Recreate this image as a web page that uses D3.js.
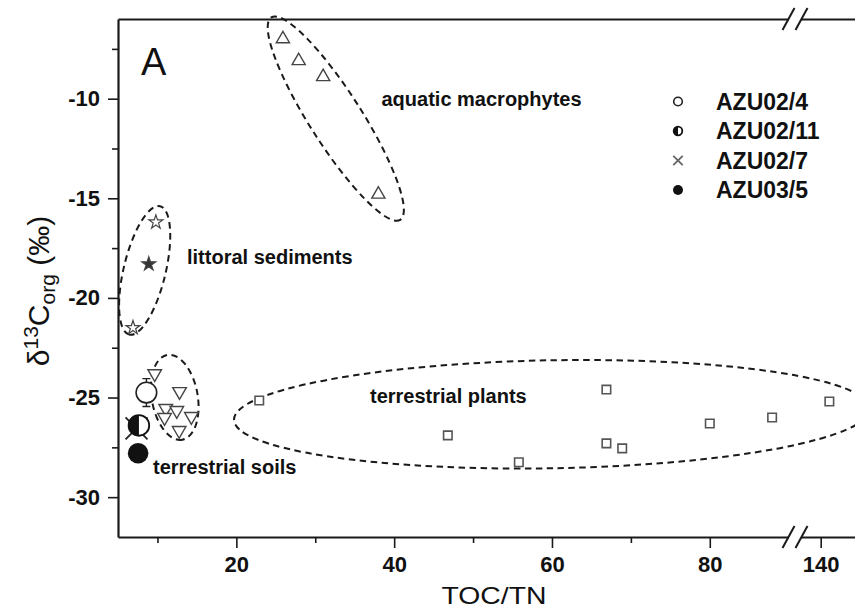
<!DOCTYPE html>
<html>
<head>
<meta charset="utf-8">
<script src="https://cdn.jsdelivr.net/npm/d3@7"></script>
<style>
  body { margin: 0; background: #fff; }
  svg { display: block; }
  text { font-family: "Liberation Sans", Arial, Helvetica, sans-serif; fill: #111; }
</style>
</head>
<body>
<svg id="chart" width="855" height="612"></svg>
<script>
// End-member groups: [TOC/TN, δ13C org (‰)]
const aquaticMacrophytes = [[25.9, -7.0], [27.9, -8.1], [31.0, -8.9], [38.0, -14.8]];
const littoralSediments  = [[9.8, -16.2], [8.9, -18.3], [6.9, -21.5]];
const littoralFilled     = [false, true, false];
const terrestrialSoils   = [[9.65, -23.8], [12.8, -24.7], [11.05, -25.55], [12.45, -25.65],
                            [10.9, -26.0], [14.3, -25.95], [12.75, -26.65]];
const terrestrialPlants  = [[22.9, -25.15], [46.8, -26.9], [55.8, -28.25], [66.9, -24.6],
                            [66.9, -27.3], [68.9, -27.55], [80.0, -26.3], [87.9, -26.0], [141.1, -25.2]];

// Core samples
const sampleNames = ["AZU02/4", "AZU02/11", "AZU02/7", "AZU03/5"];
const sampleToc   = [8.6, 7.65, 7.35, 7.55];
const sampleD13c  = [-24.75, -26.4, -26.55, -27.8];
const sampleErr   = [0.7, 0, 0, 0];

// Tick values
const xMajorLow  = [20, 40, 60, 80];
const xMinorLow  = [10, 30, 50, 70];
const xMajorHigh = [140];
const yMajor     = [-10, -15, -20, -25, -30];
const yMinor     = [-7.5, -12.5, -17.5, -22.5, -27.5];

// Dashed outlines around each group: centre in data units, radii in px, rotation in degrees
const outlineNames  = ["aquatic macrophytes", "littoral sediments", "terrestrial soils", "terrestrial plants"];
const outlineCentre = [[32.6, -11.0], [8.38, -18.62], [12.19, -24.99], [60.0, -25.84]];
const outlineShape  = [
  { rx: 120, ry: 26, angle: 57.5 },
  { rx: 66,  ry: 21, angle: 103.5 },
  { rx: 43,  ry: 23, angle: 80 },
  { rx: 318, ry: 54, angle: -1 }
];
const outlineLabelPos = [[381.5, 106], [187, 264], [153, 474], [370, 403]];

(function draw() {
  const plotLeft = 118, plotTop = 19, plotBottom = 537, plotRight = 855;
  const breakX = 795;

  const svg = d3.select("#chart");

  const xLow  = d3.scaleLinear().domain([5, 90.8]).range([plotLeft, breakX]);
  const xHigh = d3.scaleLinear().domain([137, 144.6]).range([breakX + 2, plotRight + 2]);
  const xPos  = v => v > 100 ? xHigh(v) : xLow(v);
  const y     = d3.scaleLinear().domain([-32, -6]).range([plotBottom, plotTop]);

  // ---- group outlines ----
  const outlines = svg.append("g")
    .attr("fill", "none").attr("stroke", "#1a1a1a")
    .attr("stroke-width", 2).attr("stroke-dasharray", "6.5,4.5");
  outlineCentre.forEach((c, i) => {
    const s = outlineShape[i];
    outlines.append("ellipse")
      .attr("transform", `translate(${xPos(c[0])},${y(c[1])}) rotate(${s.angle})`)
      .attr("rx", s.rx).attr("ry", s.ry);
  });

  // ---- group labels ----
  svg.append("g").selectAll("text").data(outlineNames).join("text")
    .attr("x", (d, i) => outlineLabelPos[i][0])
    .attr("y", (d, i) => outlineLabelPos[i][1])
    .attr("font-size", 20).attr("font-weight", "bold")
    .text(d => d);

  svg.append("text").attr("x", 141).attr("y", 75)
    .attr("font-size", 38).text("A");

  // ---- axes ----
  function styleAxis(g) {
    g.select(".domain").attr("stroke", "#1a1a1a").attr("stroke-width", 2.2);
    g.selectAll(".tick line").attr("stroke", "#1a1a1a").attr("stroke-width", 1.6);
    g.selectAll(".tick text").attr("font-size", 22).attr("font-weight", "bold")
      .attr("font-family", '"Liberation Sans", Arial, sans-serif').attr("fill", "#111");
  }
  const fmt = d => String(d);

  svg.append("g").attr("transform", `translate(0,${plotBottom})`)
    .call(d3.axisBottom(xLow).tickValues(xMajorLow).tickSize(11).tickSizeOuter(0).tickPadding(8).tickFormat(fmt))
    .call(styleAxis);
  svg.append("g").attr("transform", `translate(0,${plotBottom})`)
    .call(d3.axisBottom(xLow).tickValues(xMinorLow).tickSize(6).tickSizeOuter(0).tickFormat(""))
    .call(styleAxis).call(g => g.select(".domain").remove());
  svg.append("g").attr("transform", `translate(0,${plotBottom})`)
    .call(d3.axisBottom(xHigh).tickValues(xMajorHigh).tickSize(11).tickSizeOuter(0).tickPadding(8).tickFormat(fmt))
    .call(styleAxis);

  svg.append("g").attr("transform", `translate(0,${plotTop})`)
    .call(d3.axisTop(xLow).tickValues([]).tickSizeOuter(0)).call(styleAxis);
  svg.append("g").attr("transform", `translate(0,${plotTop})`)
    .call(d3.axisTop(xHigh).tickValues([]).tickSizeOuter(0)).call(styleAxis);

  svg.append("g").attr("transform", `translate(${plotLeft},0)`)
    .call(d3.axisLeft(y).tickValues(yMajor).tickSize(10).tickSizeOuter(0).tickPadding(8).tickFormat(fmt))
    .call(styleAxis);
  svg.append("g").attr("transform", `translate(${plotLeft},0)`)
    .call(d3.axisLeft(y).tickValues(yMinor).tickSize(6).tickSizeOuter(0).tickFormat(""))
    .call(styleAxis).call(g => g.select(".domain").remove());

  // axis break marks
  [plotTop, plotBottom].forEach(yy => {
    const g = svg.append("g");
    g.append("rect").attr("x", breakX - 6).attr("y", yy - 3).attr("width", 12).attr("height", 6).attr("fill", "#fff");
    [-6.5, 6.5].forEach(off => {
      g.append("line")
        .attr("x1", breakX + off - 6).attr("y1", yy + 11)
        .attr("x2", breakX + off + 6).attr("y2", yy - 11)
        .attr("stroke", "#1a1a1a").attr("stroke-width", 2);
    });
  });

  // axis titles
  svg.append("text").attr("x", 494).attr("y", 604).attr("text-anchor", "middle")
    .attr("font-size", 24).attr("textLength", 105).attr("lengthAdjust", "spacingAndGlyphs")
    .text("TOC/TN");

  const yt = svg.append("text").attr("transform", "translate(49,291) rotate(-90)")
    .attr("text-anchor", "middle").attr("font-size", 30);
  yt.append("tspan").text("δ");
  yt.append("tspan").attr("dy", -11).attr("font-size", 21).text("13");
  yt.append("tspan").attr("dy", 11).text("C");
  yt.append("tspan").attr("dy", 6).attr("font-size", 21).text("org");
  yt.append("tspan").attr("dy", -6).text(" (‰)");

  // ---- end-member markers ----
  const sym = (type, size) => d3.symbol().type(type).size(size)();

  svg.append("g").selectAll("path").data(aquaticMacrophytes).join("path")
    .attr("transform", d => `translate(${xPos(d[0])},${y(d[1])})`)
    .attr("d", sym(d3.symbolTriangle, 75))
    .attr("fill", "#fff").attr("stroke", "#444").attr("stroke-width", 1.4);

  svg.append("g").selectAll("path").data(littoralSediments).join("path")
    .attr("transform", d => `translate(${xPos(d[0])},${y(d[1])})`)
    .attr("d", sym(d3.symbolStar, 60))
    .attr("fill", (d, i) => littoralFilled[i] ? "#333" : "#fff")
    .attr("stroke", "#444").attr("stroke-width", 1.2);

  svg.append("g").selectAll("path").data(terrestrialSoils).join("path")
    .attr("transform", d => `translate(${xPos(d[0])},${y(d[1])}) rotate(180)`)
    .attr("d", sym(d3.symbolTriangle, 80))
    .attr("fill", "#fff").attr("stroke", "#444").attr("stroke-width", 1.4);

  svg.append("g").selectAll("path").data(terrestrialPlants).join("path")
    .attr("transform", d => `translate(${xPos(d[0])},${y(d[1])})`)
    .attr("d", sym(d3.symbolSquare, 72))
    .attr("fill", "#fff").attr("stroke", "#555").attr("stroke-width", 1.6);

  // ---- core sample markers ----
  function drawSample(g, kind, cx, cy, r, crossColour) {
    if (kind === 0) {
      g.append("circle").attr("cx", cx).attr("cy", cy).attr("r", r)
        .attr("fill", "#fff").attr("stroke", "#222").attr("stroke-width", 1.6);
    } else if (kind === 1) {
      g.append("circle").attr("cx", cx).attr("cy", cy).attr("r", r)
        .attr("fill", "#fff").attr("stroke", "#111").attr("stroke-width", 1.8);
      g.append("path")
        .attr("d", `M${cx},${cy - r}A${r},${r} 0 0 0 ${cx},${cy + r}Z`)
        .attr("fill", "#111");
    } else if (kind === 2) {
      const h = r * 1.1;
      g.append("path")
        .attr("d", `M${cx - h},${cy - h}L${cx + h},${cy + h}M${cx - h},${cy + h}L${cx + h},${cy - h}`)
        .attr("stroke", crossColour).attr("stroke-width", 1.8).attr("fill", "none");
    } else {
      g.append("circle").attr("cx", cx).attr("cy", cy).attr("r", r).attr("fill", "#111");
    }
  }

  const samples = svg.append("g");
  // cross first so the half-filled circle sits above it
  [2, 0, 1, 3].forEach(i => {
    const cx = xPos(sampleToc[i]), cy = y(sampleD13c[i]);
    if (sampleErr[i] > 0) {
      const y0 = y(sampleD13c[i] + sampleErr[i]), y1 = y(sampleD13c[i] - sampleErr[i]);
      samples.append("path")
        .attr("d", `M${cx},${y0}V${y1}M${cx - 4},${y0}H${cx + 4}M${cx - 4},${y1}H${cx + 4}`)
        .attr("stroke", "#222").attr("stroke-width", 1.4).attr("fill", "none");
    }
    drawSample(samples, i, cx, cy, i === 2 ? 10 : 10.3, "#222");
  });

  // ---- legend ----
  const legend = svg.append("g");
  sampleNames.forEach((name, i) => {
    const cy = 101.5 + i * 29.5;
    drawSample(legend, i, 678, cy, i === 3 ? 5 : 4.3, "#666");
    legend.append("text").attr("x", 716).attr("y", cy + 8.3)
      .attr("font-size", 23).attr("font-weight", "bold").text(name);
  });
})();
</script>
</body>
</html>
